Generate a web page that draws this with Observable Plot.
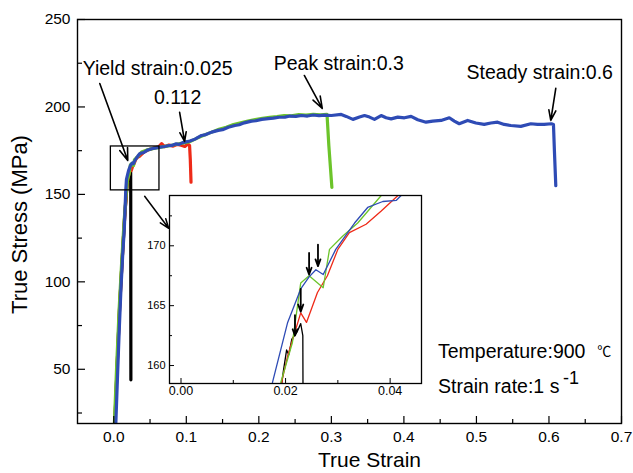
<!DOCTYPE html>
<html><head><meta charset="utf-8">
<script src="https://cdn.jsdelivr.net/npm/d3@7"></script>
<script src="https://cdn.jsdelivr.net/npm/@observablehq/plot@0.6"></script>
<style>
html,body{margin:0;padding:0;background:#fff;}
#wrap{position:relative;width:633px;height:473px;}
#inset{position:absolute;left:135px;top:190px;}
svg{display:block;}
</style></head><body><div id="wrap"><div id="main"></div><div id="inset"></div></div>
<script>
// ---- data (true strain, true stress in MPa) ----
const blueStrain = [0.0025,0.005,0.0075,0.010,0.0125,0.0145,0.0165,0.0175,0.0204,0.0229,0.0245,0.0258,0.0272,0.0296,0.0332,0.0357,0.0386,0.0412,0.0421,0.046,0.0523,0.062,0.070,0.075,0.080,0.086,0.090,0.095,0.098,0.105,0.112,0.121,0.127,0.135,0.144,0.150,0.158,0.167,0.173,0.180,0.190,0.196,0.204,0.213,0.220,0.228,0.236,0.243,0.251,0.259,0.267,0.275,0.283,0.291,0.2999,0.3136,0.3205,0.3297,0.3388,0.3457,0.3526,0.3594,0.3686,0.3755,0.3824,0.3916,0.4007,0.4099,0.4191,0.4305,0.4397,0.4512,0.4626,0.4695,0.4763,0.4879,0.4993,0.5107,0.5199,0.5292,0.5383,0.5475,0.5612,0.5750,0.5842,0.5933,0.6034,0.6062,0.6075,0.6094];
const blueStress = [15,44,72,97,117,130,152,158.6,163.6,166.4,167.4,168.0,167.6,169.7,171.9,173.2,173.7,173.8,174.2,175.2,176.1,176.9,177.4,177.8,178.0,178.9,178.6,179.6,179.9,180.5,181.6,183.7,184.2,185.6,186.6,187.0,188.4,189.4,189.8,190.9,191.9,192.1,192.9,193.3,193.6,194.1,194.2,194.8,194.6,195.1,194.8,195.4,195.0,195.3,195.1,195.7,194.6,192.9,194.2,195.1,194.2,192.9,195.1,193.8,193.2,194.2,193.8,194.6,192.7,191.3,191.9,192.3,193.8,191.9,190.4,192.3,190.8,190.0,190.8,191.3,190.0,189.4,188.9,190.4,190.0,190.0,190.4,190.0,175,155];

const greenStrain = [0.0005,0.004,0.0075,0.011,0.0145,0.0175,0.0191,0.0213,0.0229,0.0245,0.0272,0.0284,0.0309,0.0338,0.0383,0.045,0.055,0.065,0.075,0.085,0.095,0.105,0.115,0.125,0.135,0.145,0.155,0.165,0.175,0.185,0.195,0.205,0.215,0.225,0.235,0.245,0.255,0.265,0.275,0.285,0.294,0.2965,0.3007];
const greenStress = [15,52,85,112,136,152,158.6,161.9,166.9,167.5,166.5,169.7,170.8,171.9,174.2,175.3,176.3,177.0,177.7,178.5,179.3,180.2,182.2,184.0,185.6,187.2,188.4,189.9,190.9,191.9,192.8,193.5,194.0,194.5,195.1,194.9,195.6,195.4,195.8,195.5,195.7,178,154];

const redStrain = [0.0012,0.0045,0.008,0.0115,0.015,0.018,0.0194,0.0204,0.0229,0.0240,0.0261,0.0280,0.0300,0.0322,0.0354,0.0383,0.0415,0.047,0.055,0.062,0.066,0.070,0.076,0.082,0.088,0.094,0.098,0.102,0.1045,0.1055,0.1065];
const redStress = [15,50,85,112,137,154,158.9,160.8,164.4,163.6,166.1,167.5,169.7,171.1,171.8,172.9,174.2,175.4,176.5,177.2,179.0,177.3,178.2,177.6,178.6,178.0,177.4,178.8,178.0,170,157];

const blackStrain = [0.0010,0.0045,0.008,0.0115,0.015,0.0182,0.0196,0.0202,0.0206,0.0212,0.0222,0.0229,0.0233,0.0234,0.0236];
const blackStress = [15,50,85,112,137,155,159.6,161.3,160.9,162.2,162.8,163.5,162.5,150,44];

const xMajor = [0,0.1,0.2,0.3,0.4,0.5,0.6,0.7];
const xMinor = [0.05,0.15,0.25,0.35,0.45,0.55,0.65];
const yMajor = [50,100,150,200,250];
const yMinor = [25,75,125,175,225];
const insetXMajor = [0,0.02,0.04];
const insetXMinor = [0.01,0.03];
const insetYMajor = [160,165,170];
const insetYMinor = [162.5,167.5,172.5];

// annotations (text and arrows, in data units)
const labels = [
  {x: 0.0605, y: 222, text: "Yield strain:0.025"},
  {x: 0.088, y: 205.1, text: "0.112"},
  {x: 0.3102, y: 224.9, text: "Peak strain:0.3"},
  {x: 0.5873, y: 219.4, text: "Steady strain:0.6"}
];
const arrows = [
  {x1: -0.0193, y1: 213.4, x2: 0.0193, y2: 169.4},
  {x1: 0.0908, y1: 196.9, x2: 0.0977, y2: 180.3},
  {x1: 0.2627, y1: 218, x2: 0.2875, y2: 199.1},
  {x1: 0.6094, y1: 210.6, x2: 0.6025, y2: 192.3}
];
const zoomBox = [{x1: -0.004, x2: 0.063, y1: 152.3, y2: 177.4}];
const zoomArrow = [{x1: 0.0426, y1: 148.9, x2: 0.0757, y2: 130.6}];
const infoLines = [
  {x: 0.447, y: 60.0, text: "Temperature:900"},
  {x: 0.447, y: 40.0, text: "Strain rate:1 s"}
];
const degree = [{x: 0.6667, y: 60.0, text: "℃"}];
const superscript = [{x: 0.6195, y: 45.0, text: "-1"}];
const insetArrows = [
  {x: 0.0262, y1: 170.1, y2: 168.3},
  {x: 0.0245, y1: 169.4, y2: 167.6},
  {x: 0.0229, y1: 166.4, y2: 164.5},
  {x: 0.0218, y1: 164.2, y2: 162.5}
];

const series = [
  {name: "black", strain: blackStrain, stress: blackStress, color: "#000000"},
  {name: "red", strain: redStrain, stress: redStress, color: "#ee2a18"},
  {name: "green", strain: greenStrain, stress: greenStress, color: "#6cc42a"},
  {name: "blue", strain: blueStrain, stress: blueStress, color: "#2e4bb5"}
];
const rows = s => s.strain.map((x, i) => ({x, y: s.stress[i]}));

const FONT = "Liberation Sans, Arial, Helvetica, sans-serif";
const empty = () => "";

const main = Plot.plot({
  width: 633, height: 473,
  marginLeft: 77, marginRight: 12, marginTop: 19, marginBottom: 50,
  x: {domain: [-0.05, 0.7]},
  y: {domain: [19, 250]},
  style: {fontFamily: FONT, background: "white", color: "black"},
  marks: [
    ...series.map(s => Plot.line(rows(s), {x: "x", y: "y", stroke: s.color, strokeWidth: 3.2, clip: true})),
    Plot.rect(zoomBox, {x1: "x1", x2: "x2", y1: "y1", y2: "y2", fill: "none", stroke: "black", strokeWidth: 1.3}),
    Plot.arrow(zoomArrow, {x1: "x1", y1: "y1", x2: "x2", y2: "y2", stroke: "black", strokeWidth: 1.5, headLength: 10, headAngle: 40}),
    Plot.arrow(arrows, {x1: "x1", y1: "y1", x2: "x2", y2: "y2", stroke: "black", strokeWidth: 1.6, headLength: 12, headAngle: 38}),
    Plot.text(labels, {x: "x", y: "y", text: "text", fontSize: 19.5, fill: "black"}),
    Plot.text(infoLines, {x: "x", y: "y", text: "text", fontSize: 19.5, textAnchor: "start", fill: "black"}),
    Plot.text(degree, {x: "x", y: "y", text: "text", fontSize: 14, textAnchor: "start", fill: "black", fontFamily: "Noto Sans CJK SC"}),
    Plot.text(superscript, {x: "x", y: "y", text: "text", fontSize: 18, textAnchor: "start", fill: "black"}),
    Plot.axisX(xMajor, {tickSize: 0, tickPadding: 7, fontSize: 15.5, tickFormat: d3.format(".1f"), label: null}),
    Plot.axisX(xMajor, {tickSize: 7, dy: -7, tickFormat: empty, label: null, strokeWidth: 1.2}),
    Plot.axisX(xMinor, {tickSize: 4, dy: -4, tickFormat: empty, label: null, strokeWidth: 1.2}),
    Plot.axisY(yMajor, {tickSize: 0, tickPadding: 7, fontSize: 15.5, label: null}),
    Plot.axisY(yMajor, {tickSize: 8, dx: 8, tickFormat: empty, label: null, strokeWidth: 1.2}),
    Plot.axisY(yMinor, {tickSize: 5, dx: 5, tickFormat: empty, label: null, strokeWidth: 1.2}),
    Plot.text(["True Stress (MPa)"], {frameAnchor: "left", textAnchor: "middle", lineAnchor: "middle", dx: -58, dy: 3, rotate: -90, fontSize: 22, fill: "black"}),
    Plot.text(["True Strain"], {frameAnchor: "bottom", textAnchor: "middle", lineAnchor: "middle", dx: 20, dy: 37, fontSize: 21, fill: "black"}),
    Plot.frame({stroke: "black", strokeWidth: 1.4})
  ]
});
document.getElementById("main").append(main);

const inset = Plot.plot({
  width: 290, height: 215,
  marginLeft: 34, marginRight: 4, marginTop: 5, marginBottom: 22,
  x: {domain: [-0.0022, 0.046]},
  y: {domain: [158.5, 174.2]},
  style: {fontFamily: FONT, background: "transparent", color: "black", overflow: "visible"},
  marks: [
    Plot.frame({fill: "white", stroke: "none"}),
    ...series.map(s => Plot.line(rows(s), {x: "x", y: "y", stroke: s.color, strokeWidth: 1.3, clip: true})),
    Plot.arrow(insetArrows, {x: "x", y1: "y1", y2: "y2", stroke: "black", strokeWidth: 1.8, headLength: 8, headAngle: 40}),
    Plot.axisX(insetXMajor, {tickSize: 0, tickPadding: 3, fontSize: 12.5, tickFormat: d3.format(".2f"), label: null}),
    Plot.axisX(insetXMajor, {tickSize: 5, dy: -5, tickFormat: empty, label: null}),
    Plot.axisX(insetXMinor, {tickSize: 3, dy: -3, tickFormat: empty, label: null}),
    Plot.axisY(insetYMajor, {tickSize: 0, tickPadding: 4, fontSize: 11, label: null}),
    Plot.axisY(insetYMajor, {tickSize: 5, dx: 5, tickFormat: empty, label: null}),
    Plot.axisY(insetYMinor, {tickSize: 3, dx: 3, tickFormat: empty, label: null}),
    Plot.frame({stroke: "black", strokeWidth: 1.3})
  ]
});
document.getElementById("inset").append(inset);
</script>
</body></html>
